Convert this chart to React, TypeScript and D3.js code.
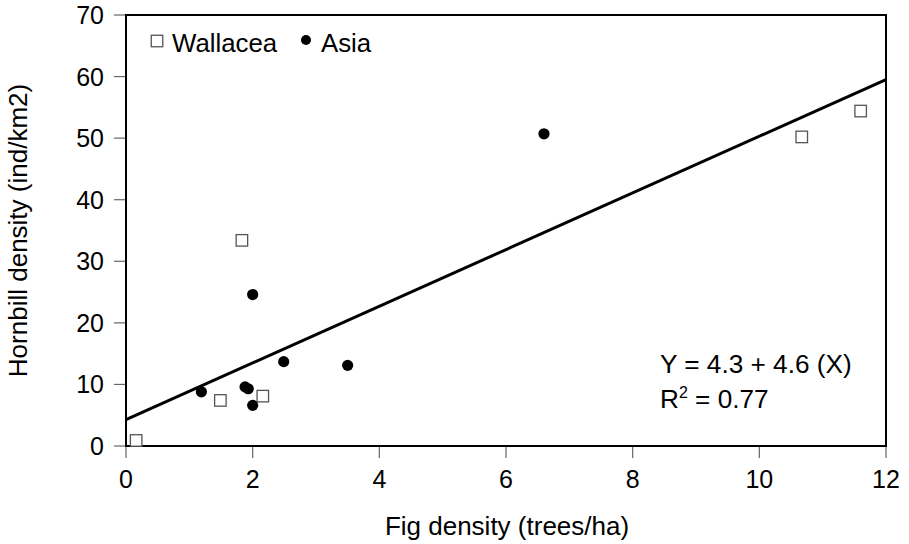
import React from "react";
import * as d3 from "d3";

const wallaceaX = [0.16, 1.49, 1.83, 2.16, 10.67, 11.6];
const wallaceaY = [0.9, 7.4, 33.4, 8.1, 50.2, 54.4];
const asiaX = [1.19, 1.88, 1.93, 2.0, 2.0, 2.49, 3.5, 6.6];
const asiaY = [8.8, 9.6, 9.3, 6.6, 24.6, 13.7, 13.1, 50.7];
const xTicks = [0, 2, 4, 6, 8, 10, 12];
const yTicks = [0, 10, 20, 30, 40, 50, 60, 70];
const intercept = 4.3;
const slope = 4.6;
const legendLabels = ["Wallacea", "Asia"];

const W = 909, H = 544;
const left = 126, right = 886, top = 15, bottom = 446;
const FONT = "'Liberation Sans', Arial, sans-serif";

export default function App() {
  const x = d3.scaleLinear().domain([0, 12]).range([left, right]);
  const y = d3.scaleLinear().domain([0, 70]).range([bottom, top]);
  const line = d3.line<number>().x((d) => x(d)).y((d) => y(intercept + slope * d));
  const sq = 11.5;
  return (
    <svg width={W} height={H} style={{ position: "absolute", left: 0, top: 0, background: "#fff" }}
      fontFamily={FONT}>
      {xTicks.map((t) => (
        <g key={"x" + t}>
          <line x1={x(t)} x2={x(t)} y1={bottom} y2={bottom + 12} stroke="#666" strokeWidth={1.2} />
          <text x={x(t)} y={488} fontSize={25} textAnchor="middle" fill="#000">{t}</text>
        </g>
      ))}
      {yTicks.map((t) => (
        <g key={"y" + t}>
          <line x1={left - 12} x2={left} y1={y(t)} y2={y(t)} stroke="#666" strokeWidth={1.2} />
          <text x={104} y={y(t) + 9} fontSize={25} textAnchor="end" fill="#000">{t}</text>
        </g>
      ))}
      <rect x={left} y={top} width={right - left} height={bottom - top} fill="none" stroke="#000" strokeWidth={2} />
      <path d={line([0, 12]) || ""} stroke="#000" strokeWidth={3} fill="none" />
      {wallaceaX.map((v, i) => (
        <rect key={"w" + i} x={x(v) - sq / 2} y={y(wallaceaY[i]) - sq / 2} width={sq} height={sq}
          fill="#fff" stroke="#555" strokeWidth={1.3} />
      ))}
      {asiaX.map((v, i) => (
        <circle key={"a" + i} cx={x(v)} cy={y(asiaY[i])} r={5.6} fill="#000" />
      ))}
      <rect x={157 - sq / 2} y={41 - sq / 2} width={sq} height={sq} fill="#fff" stroke="#555" strokeWidth={1.3} />
      <text x={172} y={52} fontSize={25.8} fill="#000">{legendLabels[0]}</text>
      <circle cx={306} cy={40} r={5} fill="#000" />
      <text x={321} y={52} fontSize={25.8} fill="#000">{legendLabels[1]}</text>
      <text x={660} y={373} fontSize={26.2} fill="#000">Y = 4.3 + 4.6 (X)</text>
      <text x={660} y={408} fontSize={26.2} fill="#000">
        R<tspan dy={-10} fontSize={16}>2</tspan><tspan dy={10}> = 0.77</tspan>
      </text>
      <text x={507} y={535} fontSize={26} textAnchor="middle" fill="#000">Fig density (trees/ha)</text>
      <text transform={`translate(27, ${(top + bottom) / 2}) rotate(-90)`} fontSize={26} textAnchor="middle" fill="#000">
        Hornbill density (ind/km2)
      </text>
    </svg>
  );
}
